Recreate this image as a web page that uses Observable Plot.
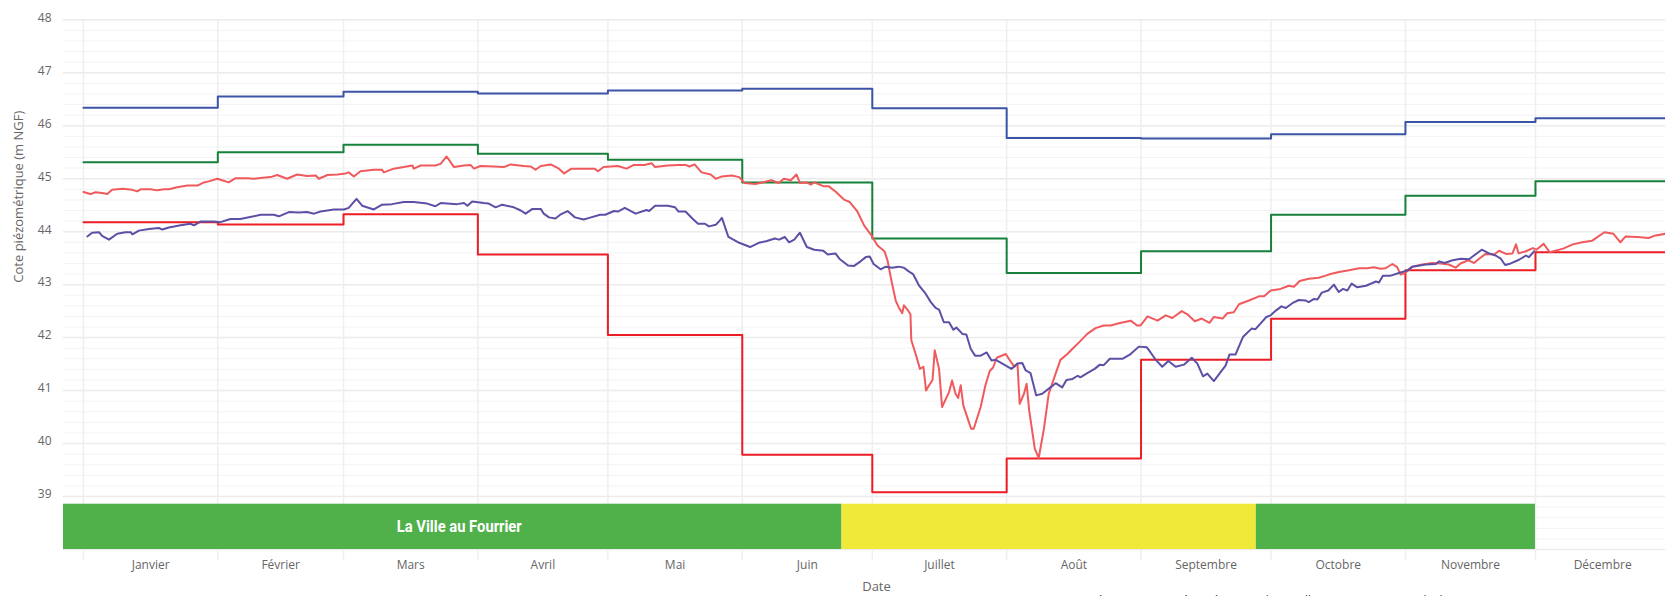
<!DOCTYPE html>
<html><head><meta charset="utf-8">
<script src="https://cdn.jsdelivr.net/npm/d3@7"></script>
<script src="https://cdn.jsdelivr.net/npm/@observablehq/plot@0.6"></script>
<style>html,body{margin:0;padding:0;overflow:hidden;background:#fff;}</style>
</head><body><div id="chart"></div>
<script>
// ---------- DATA ----------
const monthLabels = ["Janvier","Février","Mars","Avril","Mai","Juin","Juillet","Août","Septembre","Octobre","Novembre","Décembre"];
const monthStarts = ["2024-01-01","2024-02-01","2024-03-01","2024-04-01","2024-05-01","2024-06-01","2024-07-01","2024-08-01","2024-09-01","2024-10-01","2024-11-01","2024-12-01","2025-01-01"];

// monthly thresholds (m NGF)
const seuilBleu  = [46.34,46.55,46.64,46.61,46.665,46.70,46.33,45.77,45.76,45.84,46.07,46.14];
const seuilVert  = [45.31,45.50,45.64,45.47,45.36,44.93,43.87,43.22,43.63,44.32,44.68,44.95];
const seuilRouge = [44.18,44.135,44.33,43.57,42.05,39.79,39.08,39.72,41.58,42.355,43.27,43.61];

// series A (light red): day of year 2024 (0 = 1 Jan) and level
const dayA = [0,1.6,2.8,4.3,5.5,6.6,9,11.3,12.4,13.2,15.5,17,18.6,19.7,21.6,24,26.3,27.8,28.9,30.9,32,33.5,35.1,37.8,39.3,41.3,43.2,44.7,47,49.3,51.6,53.6,54.3,56.3,58.6,60.5,61.2,62.4,63.9,67,68.9,69.3,71.6,73.9,75.9,76.2,77.8,81.2,82.4,83.8,85.5,87.8,89.3,90.1,91.6,94.7,97,98.5,101.6,103.2,104.3,105.5,107.8,109.7,
110.9,112.6,115,117.9,118.7,120,123.3,125.3,127,129.4,131.1,131.9,134.8,137.3,138.9,139.8,141,142.6,144.7,145.9,147.2,149.6,151.3,152.5,155,156.6,158.7,160.4,161.6,163.2,164.5,165.3,166.9,167.8,168.6,170.7,171.9,173.5,175.6,176.8,178.5,180.1,181.8,183.2,184.8,185.5,186.4,187.4,188.1,188.9,189.3,190.1,190.8,191,192,193,193.8,194.4,195.1,195.9,196.4,197.4,198.1,199.7,200.4,201.2,201.8,202.4,203,203.9,204.8,205.4,207,208.1,209.1,209.9,210.7,212.8,213.9,214.8,215.5,216,217,217.6,218.2,219.5,220.4,221.6,222.7,224.3,225.4,227,228.2,229.7,231.6,233.5,235.4,237,238.9,241.6,243.1,243.9,245.5,247.8,249.7,251.2,253.4,254.7,256.4,258,259.8,260.8,262.8,263.9,265.4,266.6,268.9,271.2,272.4,273.9,276.2,278.1,279.3,280.6,282.7,285,286.6,287.7,289.7,292,294.3,296.2,297.7,299.3,300.4,302,303.1,303.9,304.9,306.6,308.9,311.2,313.1,315,316.6,317.7,319.5,320.8,322,323.5,325.5,326.6,328.2,329.7,330.5,331.1,332.8,334.4,335.2,336.9,338.3,341.4,343.6,345.8,348.1,350.9,353,354.6,355.8,358.5,361.1,362.7,365];
const levelA = [44.75,44.71,44.745,44.73,44.71,44.79,44.81,44.79,44.76,44.80,44.80,44.78,44.80,44.80,44.84,44.87,44.87,44.93,44.95,45.00,44.97,44.93,45.01,45.01,45.00,45.02,45.03,45.07,45.00,45.08,45.05,45.06,45.00,45.07,45.08,45.10,45.12,45.04,45.14,45.17,45.17,45.12,45.19,45.22,45.25,45.19,45.25,45.25,45.28,45.42,45.22,45.25,45.26,45.19,45.24,45.23,45.22,45.27,45.24,45.23,45.17,45.24,45.27,45.19,
45.10,45.19,45.19,45.19,45.14,45.22,45.24,45.19,45.26,45.26,45.29,45.22,45.25,45.26,45.26,45.23,45.27,45.12,45.08,45.00,45.04,45.06,45.03,44.92,44.90,44.93,44.97,44.92,45.00,44.97,45.08,44.92,44.93,44.89,44.93,44.86,44.86,44.76,44.60,44.56,44.39,44.12,43.93,43.74,43.63,43.46,43.08,42.70,42.57,42.46,42.61,42.53,42.44,41.95,41.69,41.41,41.45,41.00,41.10,41.20,41.76,41.41,40.69,40.97,41.19,40.94,40.86,41.10,40.72,40.50,40.28,40.28,40.69,41.10,41.37,41.44,41.62,41.69,41.55,41.45,41.51,40.75,40.94,41.13,40.62,39.90,39.73,40.28,40.94,41.32,41.58,41.69,41.79,41.91,42.07,42.18,42.23,42.23,42.27,42.32,42.23,42.23,42.40,42.32,42.42,42.37,42.50,42.44,42.31,42.36,42.28,42.39,42.36,42.46,42.48,42.63,42.70,42.78,42.78,42.89,42.92,42.98,42.96,43.07,43.11,43.13,43.17,43.20,43.24,43.27,43.31,43.31,43.33,43.30,43.31,43.39,43.33,43.19,43.22,43.34,43.38,43.41,43.40,43.38,43.32,43.40,43.46,43.41,43.49,43.58,43.57,43.64,43.58,43.59,43.76,43.59,43.63,43.69,43.66,43.77,43.61,43.68,43.76,43.80,43.83,43.99,43.96,43.80,43.91,43.90,43.88,43.93,43.96];

// series B (purple)
const dayB = [0.9,2,3.6,4.3,5.9,7.8,9.7,10.9,11.3,12.8,15.1,17.4,18.2,19.7,22.4,24.7,25.5,27,30.1,31.6,33.9,36.2,39.3,40.9,43.9,45.1,47.4,49.7,51.6,53.2,54.7,57.8,60.1,61.2,63,64.3,67,68.9,71.2,73.9,76.2,79.3,81.2,82.4,86.2,87.8,88.6,89.7,92.4,93.5,95.1,96.6,99.3,100.9,102,103.6,105.5,106.2,107.4,108.9,110,
111.7,113.4,115.4,116.7,119.2,120.4,122.4,123.3,124.9,127.4,129.9,130.5,131.9,134.8,136.5,137.3,138.9,140.6,141.8,143.4,144.3,145.9,146.7,147.3,148.8,151.3,153.8,155.8,157.5,159.5,160.5,161.8,162.8,164,165.3,166.9,168.6,170.7,171.7,173.5,174.4,176.4,177.7,179.3,180.5,181.4,182.3,183.9,185.1,186.6,188.1,189.3,190.4,191.4,192.8,194.3,195.5,196.6,197.4,198.5,199.7,200.7,201.4,202.8,203.7,204.7,205.7,207,208.4,209.5,210.5,212,214.1,215.5,216.6,217.4,218.5,219.8,221.2,223.1,224.3,225.8,226.8,228.2,229.4,230,231.6,233.3,234.5,235.4,236.8,239.7,241.6,243.5,245.3,246.2,247.4,248.9,250.3,252,253.9,255.7,257,258.3,259.3,260.8,262.1,263.5,264.4,265.8,267.5,269.5,270.4,271.6,272.9,273.9,275.1,276.4,277.4,278.9,280.4,282,282.7,283.9,284.7,285.7,287.2,288.5,289.6,290.6,291.6,292.6,293.9,295.9,298.2,298.9,299.8,301.6,303.5,305.5,306.6,309.7,312,312.8,314,315.9,317.8,319.7,320.8,322.6,324.3,325.8,327,328,329.3,331.2,332.8,333.5,334.7];
const levelB = [43.91,43.98,43.99,43.92,43.85,43.96,43.99,43.99,43.95,44.02,44.05,44.07,44.04,44.08,44.12,44.15,44.12,44.19,44.19,44.18,44.24,44.24,44.29,44.32,44.32,44.29,44.37,44.36,44.37,44.34,44.38,44.42,44.42,44.45,44.62,44.49,44.42,44.51,44.52,44.56,44.56,44.53,44.48,44.54,44.52,44.54,44.49,44.57,44.54,44.53,44.46,44.51,44.46,44.40,44.34,44.43,44.43,44.34,44.27,44.25,44.32,
44.39,44.27,44.23,44.26,44.32,44.32,44.39,44.38,44.45,44.34,44.41,44.39,44.49,44.49,44.46,44.38,44.38,44.24,44.15,44.15,44.10,44.13,44.20,44.26,43.90,43.79,43.71,43.79,43.82,43.87,43.85,43.90,43.80,43.85,43.98,43.71,43.66,43.64,43.57,43.59,43.49,43.36,43.35,43.44,43.52,43.53,43.39,43.29,43.34,43.32,43.34,43.32,43.25,43.20,42.98,42.83,42.67,42.56,42.53,42.29,42.29,42.15,42.19,42.07,42.06,41.79,41.66,41.66,41.72,41.57,41.58,41.51,41.41,41.51,41.52,41.38,41.33,40.91,40.94,41.06,41.14,41.06,41.20,41.22,41.28,41.25,41.33,41.41,41.49,41.48,41.60,41.60,41.69,41.83,41.82,41.72,41.58,41.45,41.56,41.45,41.49,41.62,41.51,41.27,41.32,41.18,41.32,41.47,41.68,41.68,42.01,42.17,42.16,42.27,42.39,42.42,42.51,42.59,42.56,42.65,42.71,42.70,42.67,42.73,42.72,42.85,42.89,43.00,42.86,42.92,42.89,43.02,42.95,42.98,43.06,43.04,43.17,43.17,43.22,43.27,43.34,43.38,43.39,43.44,43.41,43.46,43.49,43.48,43.55,43.66,43.59,43.55,43.49,43.37,43.40,43.47,43.55,43.52,43.63];

// status band (day of year boundaries)
const bandFrom   = [-4.6, 175, 270.6];
const bandTo     = [175, 270.6, 335];
const bandStatus = ["normal", "vigilance", "normal"];
const bandName   = "La Ville au Fourrier";

const yTicks = [39,40,41,42,43,44,45,46,47,48];
const yTitle = "Cote piézométrique (m NGF)";
const xTitle = "Date";
const caption = "Données : niveaux piézométriques de La Ville au Fourrier et seuils de gestion – source : SIGES / ADES – Bretagne";

// ---------- BUILD ----------
const DAY0 = Date.UTC(2024, 0, 1);
const toDate = d => new Date(DAY0 + d * 864e5);
const parse = s => new Date(s + "T00:00:00Z");

const starts = monthStarts.map(parse);
const stepRows = (vals, key) => {
  const rows = vals.map((v, i) => ({date: starts[i], v, key}));
  rows.push({date: toDate(366), v: vals[vals.length - 1], key});
  return rows;
};
const steps = [
  ...stepRows(seuilBleu, "bleu"),
  ...stepRows(seuilVert, "vert"),
  ...stepRows(seuilRouge, "rouge")
];
const serieA = dayA.map((d, i) => ({date: toDate(d), v: levelA[i]}));
const serieB = dayB.map((d, i) => ({date: toDate(d), v: levelB[i]}));
const bands = bandFrom.map((f, i) => ({x1: toDate(f), x2: toDate(bandTo[i]), status: bandStatus[i]}));
const statusColor = {normal: "#50b14a", vigilance: "#efe93a"};
const months = monthLabels.map((m, i) => ({label: m, date: new Date((+starts[i] + +starts[i + 1]) / 2)}));
const minor = d3.range(380, 481, 2).map(v => v / 10);
const labelDay = (bandFrom[0] + bandTo[0]) / 2 + 1.5;

const chart = Plot.plot({
  width: 1665, height: 612,
  marginTop: 19.3, marginBottom: 63, marginLeft: 63, marginRight: 0,
  style: {fontFamily: "'Open Sans', sans-serif", fontSize: "12px", color: "#666666", background: "#ffffff", overflow: "visible"},
  x: {type: "utc", domain: [toDate(-4.6), toDate(365)], axis: null},
  y: {domain: [38, 48], axis: null},
  marks: [
    Plot.ruleY(minor, {stroke: "#f3f3f3", strokeWidth: 1}),
    Plot.ruleY(yTicks.concat([38]), {stroke: "#ececec", strokeWidth: 1.5}),
    Plot.ruleX(starts.slice(0, 12), {y1: 37.8, y2: 48, stroke: "#efefef", strokeWidth: 1.5}),
    Plot.rect(bands, {x1: "x1", x2: "x2", y1: 38, y2: 38.855, fill: d => statusColor[d.status]}),
    Plot.text([bandName], {x: toDate(labelDay), y: 38.43, text: d => d, fill: "white", fontWeight: "bold", fontSize: 16, fontFamily: "Roboto, sans-serif", className: "bandlabel"}),
    Plot.line(steps, {x: "date", y: "v", z: "key", curve: "step-after", strokeWidth: 2,
      stroke: d => ({bleu: "#3b54a5", vert: "#17803b", rouge: "#ec1d25"})[d.key]}),
    Plot.line(serieA, {x: "date", y: "v", stroke: "#f05a5d", strokeWidth: 2, strokeLinejoin: "round"}),
    Plot.line(serieB, {x: "date", y: "v", stroke: "#5c50a6", strokeWidth: 2, strokeLinejoin: "round"}),
    Plot.text(months, {x: "date", y: 37.70, text: "label", fill: "#666", fontSize: 12}),
    Plot.axisY({ticks: yTicks, tickSize: 0, tickPadding: 12, dy: -2, label: null, fontSize: 12}),
    Plot.text([yTitle], {frameAnchor: "left", dx: -45, dy: -2, rotate: -90, text: d => d, fontSize: 13, fill: "#666"}),
    Plot.text([xTitle], {frameAnchor: "bottom", dx: 12, dy: 41, text: d => d, fontSize: 13, fill: "#666"}),
    Plot.text([caption], {frameAnchor: "bottom-left", dx: 1002, dy: 55, textAnchor: "start", text: d => d, fontSize: 12, fill: "#333"})
  ]
});
document.getElementById("chart").appendChild(chart);
d3.select(chart).selectAll(".bandlabel text").attr("textLength", 125).attr("lengthAdjust", "spacingAndGlyphs");
</script></body></html>
